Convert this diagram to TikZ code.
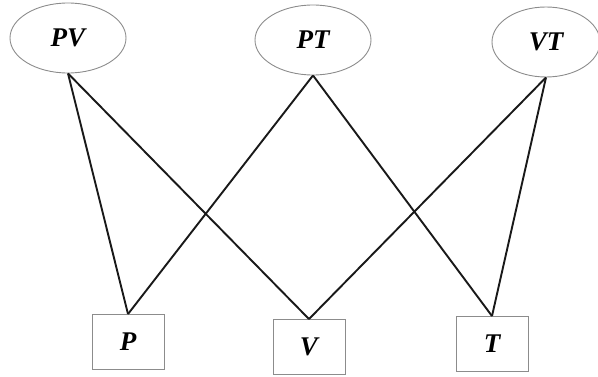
\documentclass[tikz,border=0pt]{standalone}
\usepackage{fontspec}
\setmainfont{Liberation Serif}
\usetikzlibrary{shapes.geometric}
\begin{document}
\begin{tikzpicture}[x=1pt,y=-1pt,
  pair/.style={ellipse,draw=gray!90,line width=0.9pt,inner sep=0pt,
    minimum width=116pt,minimum height=70pt,font=\fontsize{27}{30}\selectfont\bfseries\itshape},
  single/.style={rectangle,draw=gray!90,line width=0.9pt,inner sep=0pt,
    minimum width=72pt,minimum height=55pt,font=\fontsize{27}{30}\selectfont\bfseries\itshape},
  link/.style={line width=1.9pt,black!90}]
\useasboundingbox (0,0) rectangle (598,377);
\node[pair] (PV) at (68,38) {PV};
\node[pair] (PT) at (313,40) {PT};
\node[pair,minimum width=108pt] (VT) at (546,42) {VT};
\node[single] (P) at (128,342) {P};
\node[single] (V) at (309,347) {V};
\node[single] (T) at (492,344) {T};
\draw[link] (PV.south) -- (P.north);
\draw[link] (PV.south) -- (V.north);
\draw[link] (PT.south) -- (P.north);
\draw[link] (PT.south) -- (T.north);
\draw[link] (VT.south) -- (V.north);
\draw[link] (VT.south) -- (T.north);
\end{tikzpicture}
\end{document}
